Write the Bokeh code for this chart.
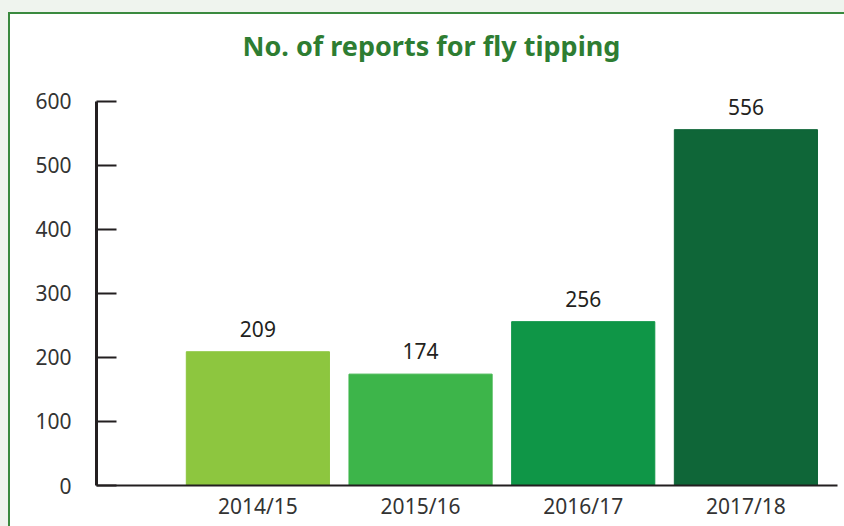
from bokeh.plotting import figure
from bokeh.models import Range1d, FixedTicker, ColumnDataSource
from bokeh.embed import file_html
from bokeh.resources import INLINE
from bokeh.core.properties import value

categories = ["2014/15", "2015/16", "2016/17", "2017/18"]
reports = [209, 174, 256, 556]
bar_colors = ["#8DC63F", "#3DB54A", "#0F9647", "#0F6638"]
y_ticks = [0, 100, 200, 300, 400, 500, 600]
positions = [1, 2, 3, 4]

FONT = "Noto Sans"
TXT = "#231F20"
GREEN = "#2E7D32"

src = ColumnDataSource(dict(x=positions, top=reports, color=bar_colors,
                            label=[str(v) for v in reports]))

p = figure(width=844, height=526,
           x_range=Range1d(0.008, 4.563), y_range=Range1d(0, 615.6),
           output_backend="svg", toolbar_location=None,
           min_border_left=96, min_border_right=7,
           min_border_top=91, min_border_bottom=41,
           border_fill_color=None, border_fill_alpha=0,
           background_fill_color="white")
p.outline_line_color = None
p.grid.grid_line_color = None

p.vbar(x="x", top="top", width=0.88, bottom=0, color="color", source=src)
p.text(x="x", y="top", text="label", source=src, text_align="center",
       text_baseline="alphabetic", y_offset=-23,
       text_font=value(FONT), text_font_size="21px", text_color=TXT)

p.title.text = "No. of reports for fly tipping"
p.title.text_font = FONT
p.title.text_font_size = "27px"
p.title.text_font_style = "bold"
p.title.text_color = GREEN
p.title.align = "left"
p.title.vertical_align = "top"
p.title.offset = 146
p.title.standoff = 52

ya = p.yaxis[0]
ya.ticker = FixedTicker(ticks=y_ticks)
ya.bounds = (0, 600)
ya.major_tick_in = 20
ya.major_tick_out = 0
ya.minor_tick_line_color = None
ya.major_tick_line_width = 2
ya.major_tick_line_color = TXT
ya.axis_line_width = 3
ya.axis_line_color = TXT
ya.major_label_standoff = 25
ya.major_label_text_font = FONT
ya.major_label_text_font_size = "21px"
ya.major_label_text_color = "#333333"

xa = p.xaxis[0]
xa.ticker = FixedTicker(ticks=positions)
xa.major_label_overrides = {pos: cat for pos, cat in zip(positions, categories)}
xa.major_tick_line_color = None
xa.minor_tick_line_color = None
xa.axis_line_width = 2
xa.axis_line_color = TXT
xa.major_label_standoff = 0
xa.major_label_text_font = FONT
xa.major_label_text_font_size = "21px"
xa.major_label_text_color = "#333333"

html = file_html(p, INLINE)
G = "#3A8A3F"
L = "#EFF4EE"
bg = ("background: "
      "linear-gradient({g},{g}) 8px 12px/100% 2px no-repeat, "
      "linear-gradient({g},{g}) 8px 12px/2px 100% no-repeat, "
      "linear-gradient({l},{l}) 0 0/100% 12px no-repeat, "
      "linear-gradient({l},{l}) 0 0/8px 100% no-repeat, #ffffff !important;").format(g=G, l=L)
css = "<style>html, body { %s }</style>" % bg
html = html.replace("</head>", css + "</head>", 1)
open("out.html", "w").write(html)
